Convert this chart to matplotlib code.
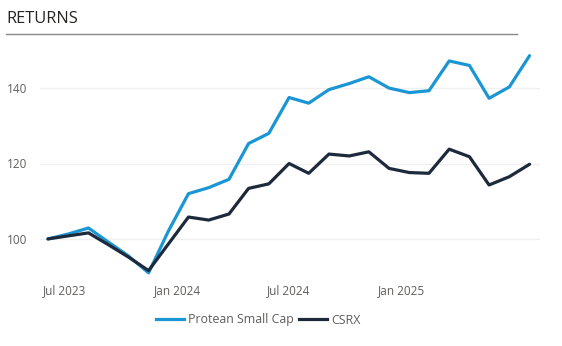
import matplotlib
matplotlib.use("Agg")
import matplotlib.pyplot as plt
import pandas as pd
from matplotlib.lines import Line2D

plt.rcParams['font.family'] = ['Open Sans', 'DejaVu Sans']

dates = ["2023-06-04", "2023-07-07", "2023-08-09", "2023-09-10", "2023-10-13",
         "2023-11-15", "2023-12-17", "2024-01-19", "2024-02-21", "2024-03-25",
         "2024-04-26", "2024-05-29", "2024-07-01", "2024-08-02", "2024-09-04",
         "2024-10-07", "2024-11-08", "2024-12-11", "2025-01-13", "2025-02-14",
         "2025-03-19", "2025-04-21", "2025-05-23", "2025-06-25", "2025-07-28"]

protean = [100.0, 101.3, 102.9, 99.2, 95.5, 91.0, 102.0, 112.0, 113.6, 115.8,
           125.3, 128.0, 137.5, 136.0, 139.6, 141.2, 143.0, 140.0, 138.8, 139.3,
           147.2, 146.0, 137.3, 140.3, 148.6]

csrx = [100.0, 100.8, 101.6, 98.5, 95.2, 91.6, 98.6, 105.8, 105.0, 106.6,
        113.4, 114.6, 120.0, 117.4, 122.5, 122.0, 123.1, 118.7, 117.6, 117.4,
        123.8, 121.8, 114.3, 116.5, 119.8]

series_names = ["Protean Small Cap", "CSRX"]
yticks = [100, 120, 140]
xtick_dates = ["2023-07-01", "2024-01-01", "2024-07-01", "2025-01-01"]
xtick_labels = ["Jul 2023", "Jan 2024", "Jul 2024", "Jan 2025"]

blue = "#1B96D4"
navy = "#1C2A3C"
grey = "#605E5C"

W, H = 562, 346
fig = plt.figure(figsize=(W / 100, H / 100), dpi=100)
fig.patch.set_facecolor("white")

left, right, top, bottom = 40, 540, 50, 277
ax = fig.add_axes([left / W, 1 - bottom / H, (right - left) / W, (bottom - top) / H])

x = pd.to_datetime(dates)
ax.plot(x, protean, color=blue, lw=2.3, solid_joinstyle="round", solid_capstyle="round", zorder=3)
ax.plot(x, csrx, color=navy, lw=2.3, solid_joinstyle="round", solid_capstyle="round", zorder=4)

ax.set_ylim(89.9, 150.1)
ax.set_xlim(pd.Timestamp("2023-05-22"), pd.Timestamp("2025-08-14"))
ax.set_yticks(yticks)
ax.set_yticklabels([str(v) for v in yticks])
ax.set_xticks(pd.to_datetime(xtick_dates))
ax.set_xticklabels(xtick_labels)

ax.grid(axis="y", color="#F0F0F0", lw=1)
ax.set_axisbelow(True)
for s in ax.spines.values():
    s.set_visible(False)
ax.tick_params(axis="both", length=0, colors=grey, labelsize=8.5)
ax.tick_params(axis="y", pad=9)
ax.tick_params(axis="x", pad=5)

fig.text(6 / W, 1 - 19 / H, "RETURNS", fontsize=11.8, color="#252423", va="center", ha="left")
fig.add_artist(Line2D([6 / W, 517 / W], [1 - 33.5 / H, 1 - 33.5 / H], color="#8A8886", lw=1))

handles = [Line2D([], [], color=blue, lw=2.3), Line2D([], [], color=navy, lw=2.3)]
fig.legend(handles, series_names, loc="center", bbox_to_anchor=(258 / W, 1 - 320 / H),
           ncol=2, frameon=False, fontsize=8.9, handlelength=2.3, handletextpad=0.3,
           columnspacing=0.4, labelcolor=grey)

fig.savefig("out.png", dpi=100)
